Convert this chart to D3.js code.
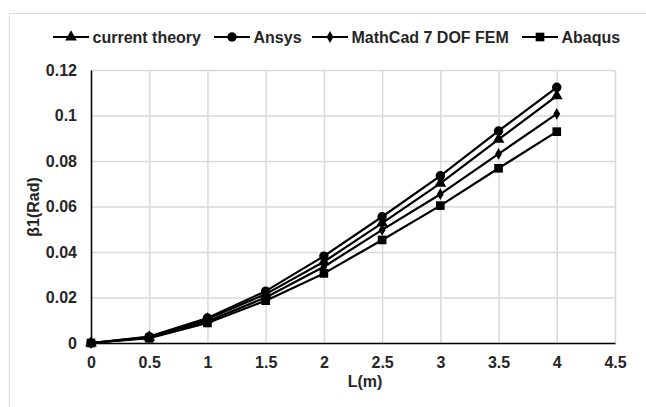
<!DOCTYPE html>
<html>
<head>
<meta charset="utf-8">
<script src="https://cdn.jsdelivr.net/npm/d3@7"></script>
<style>
	body { margin: 0; background: #fff; }
	text { font-family: "Liberation Sans", Arial, sans-serif; font-weight: bold; fill: #262626; }
</style>
</head>
<body>
<div id="graphic"></div>
<script>
// chart values
const lengths = [0, 0.5, 1, 1.5, 2, 2.5, 3, 3.5, 4];
const currentTheory = [0, 0.0026, 0.0105, 0.0215, 0.0357, 0.0527, 0.0702, 0.0895, 0.1086];
const ansys = [0, 0.0028, 0.0110, 0.0228, 0.0382, 0.0555, 0.0735, 0.0932, 0.1124];
const mathCad = [0, 0.0024, 0.0095, 0.0200, 0.0335, 0.0497, 0.0654, 0.0831, 0.1007];
const abaqus = [0, 0.0021, 0.0088, 0.0186, 0.0306, 0.0453, 0.0604, 0.0768, 0.0929];
const xTicks = [0, 0.5, 1, 1.5, 2, 2.5, 3, 3.5, 4, 4.5];
const yTicks = [0, 0.02, 0.04, 0.06, 0.08, 0.1, 0.12];

const series = [
	{ name: 'current theory', values: currentTheory, symbol: d3.symbolTriangle, size: 60 },
	{ name: 'Ansys', values: ansys, symbol: d3.symbolCircle, size: 70 },
	{ name: 'MathCad 7 DOF FEM', values: mathCad, symbol: d3.symbolDiamond, size: 40 },
	{ name: 'Abaqus', values: abaqus, symbol: d3.symbolSquare, size: 75 }
];

const width = 646, height = 407;
const margin = { top: 70, right: 31, bottom: 64, left: 91 };
const chart_width = width - margin.left - margin.right;
const chart_height = height - margin.top - margin.bottom;

const svg = d3.select('#graphic').append('svg')
	.attr('width', width)
	.attr('height', height);

// outer chart frame
svg.append('rect')
	.attr('x', 9.5).attr('y', 13.5)
	.attr('width', 700).attr('height', 500)
	.attr('fill', 'none')
	.attr('stroke', '#d9d9d9');

const g = svg.append('g').attr('transform', `translate(${margin.left},${margin.top})`);

const x = d3.scaleLinear().domain([0, 4.5]).range([0, chart_width]);
const y = d3.scaleLinear().domain([0, 0.12]).range([chart_height, 0]);

// grid lines
g.append('g')
	.call(d3.axisLeft(y).tickValues(yTicks).tickSize(-chart_width).tickFormat(''))
	.call(a => a.select('.domain').remove())
	.call(a => a.selectAll('line').attr('stroke', '#d9d9d9').attr('stroke-width', 1.5));
g.append('g')
	.call(d3.axisBottom(x).tickValues(xTicks).tickSize(chart_height).tickFormat(''))
	.call(a => a.select('.domain').remove())
	.call(a => a.selectAll('line').attr('stroke', '#d9d9d9').attr('stroke-width', 1.5));

// y axis
g.append('g')
	.call(d3.axisLeft(y).tickValues(yTicks).tickSize(0).tickPadding(14).tickFormat(d => d3.format('')(+d.toFixed(2))))
	.call(a => a.select('.domain').attr('stroke', '#000').attr('stroke-width', 1.5))
	.call(a => a.selectAll('text').style('font-size', '16px'));

// x axis
g.append('g')
	.attr('transform', `translate(0,${chart_height})`)
	.call(d3.axisBottom(x).tickValues(xTicks).tickSize(0).tickPadding(14).tickFormat(d => d3.format('')(d)))
	.call(a => a.select('.domain').attr('stroke', '#000').attr('stroke-width', 1.5))
	.call(a => a.selectAll('text').style('font-size', '16px'));

// lines and markers
const line = d3.line()
	.x((d, i) => x(lengths[i]))
	.y(d => y(d));

series.forEach(s => {
	g.append('path')
		.datum(s.values)
		.attr('fill', 'none')
		.attr('stroke', '#000')
		.attr('stroke-width', 2.2)
		.attr('stroke-linejoin', 'round')
		.attr('d', line);
	g.selectAll(null)
		.data(s.values)
		.enter()
		.append('path')
		.attr('transform', (d, i) => `translate(${x(lengths[i])},${y(d)})`)
		.attr('d', d3.symbol().type(s.symbol).size(s.size))
		.attr('fill', '#000');
});

// axis titles
svg.append('text')
	.attr('x', 365).attr('y', 387)
	.attr('text-anchor', 'middle')
	.style('font-size', '16px')
	.text('L(m)');

svg.append('text')
	.attr('transform', 'translate(39,207) rotate(-90)')
	.attr('text-anchor', 'middle')
	.style('font-size', '16px')
	.text('β1(Rad)');

// legend
const legendX = [53, 214, 312, 522];
const legend = svg.append('g');
series.forEach((s, i) => {
	const item = legend.append('g').attr('transform', `translate(${legendX[i]},37)`);
	item.append('line')
		.attr('x1', 0).attr('x2', 36)
		.attr('stroke', '#000').attr('stroke-width', 2.2);
	item.append('path')
		.attr('transform', 'translate(18,0)')
		.attr('d', d3.symbol().type(s.symbol).size(s.size))
		.attr('fill', '#000');
	item.append('text')
		.attr('x', 39.5).attr('dy', '0.35em')
		.style('font-size', '16px')
		.text(s.name);
});
</script>
</body>
</html>
